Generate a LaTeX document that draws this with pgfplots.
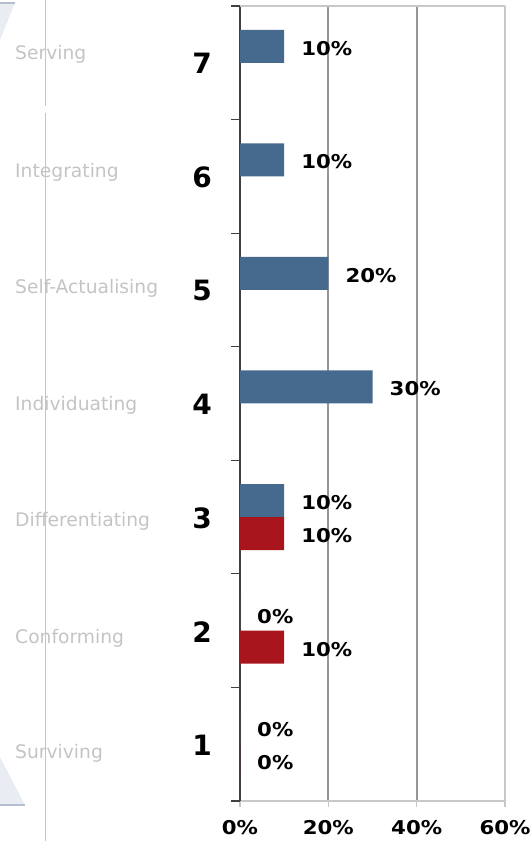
\documentclass[border=0pt]{standalone}
\usepackage{fontspec}
\setmainfont{DejaVu Sans}
\newfontfamily\valfont[FakeStretch=1.12]{DejaVu Sans}
\usepackage{pgfplots}
\pgfplotsset{compat=1.18}

\definecolor{barblue}{RGB}{70,106,142}
\definecolor{barred}{RGB}{168,21,28}
\definecolor{lightgrid}{RGB}{200,200,200}
\definecolor{midgrid}{RGB}{150,150,150}
\definecolor{labgray}{RGB}{196,196,196}
\definecolor{shapefill}{RGB}{233,237,243}
\definecolor{shapeedge}{RGB}{180,192,208}

\begin{document}
\begin{tikzpicture}[x=1pt,y=1pt]
\path[use as bounding box] (0,0) rectangle (531,841);

% faint shapes of the background
\fill[shapefill] (0,838) -- (15,838) -- (0,801) -- cycle;
\draw[shapeedge, line width=2pt] (0,837.5) -- (15,837.5);
\fill[shapefill] (0,84) -- (25,36) -- (0,36) -- cycle;
\draw[shapeedge, line width=1.5pt] (0,36) -- (25,36);

% stage names
\foreach \lab/\yy in {Serving/781, Integrating/663, Self-Actualising/547,
    Individuating/430, Differentiating/314, Conforming/197, Surviving/82}
  \node[anchor=base west, inner sep=0pt, text=labgray,
        font=\fontsize{18.7}{18.7}\selectfont] at (15,\yy) {\lab};

\draw[labgray, line width=1pt] (45,841) -- (45,735);
\draw[labgray, line width=1pt] (45,728) -- (45,0);

\begin{axis}[
  at={(240pt,40pt)}, anchor=south west, scale only axis,
  width=265pt, height=795pt,
  xmin=0, xmax=60, ymin=0.5, ymax=7.5,
  xbar, bar width=33pt,
  clip=false,
  /pgf/number format/assume math mode=true,
  axis x line*=bottom, axis y line*=left,
  x axis line style={draw=lightgrid, line width=1.2pt, -},
  y axis line style={draw=black!75, line width=1.2pt, -},
  tick align=outside,
  major tick length=6pt, minor tick length=9pt,
  xtick={0,20,40}, extra x ticks={60},
  grid style={midgrid, line width=2pt},
  extra x tick style={grid style={lightgrid, line width=2pt}},
  xticklabel={\pgfmathprintnumber{\tick}\%},
  xtick style={draw=lightgrid, line width=1.2pt},
  xmajorgrids,
  ytick={1,...,7}, minor ytick={0.5,1.5,...,7.5},
  major y tick style={draw=none},
  minor y tick style={draw=black!75, line width=1.2pt},
  yticklabel style={font=\bfseries\fontsize{28}{28}\selectfont,
                    anchor=center, xshift=-32pt, yshift=-1pt},
  xticklabel style={font=\valfont\bfseries\fontsize{19}{19}\selectfont,
                    anchor=center, yshift=-21pt},
  point meta=x,
  nodes near coords={\pgfmathprintnumber{\pgfplotspointmeta}\%},
  every node near coord/.append style={anchor=west, inner sep=0pt, xshift=17pt,
      yshift=-2pt, text=black, font=\valfont\bfseries\fontsize{19}{19}\selectfont},
]
\addplot[fill=barblue, draw=none, bar shift=16.5pt]
  coordinates {(0,1) (0,2) (10,3) (30,4) (20,5) (10,6) (10,7)};
\addplot[fill=barred, draw=none, bar shift=-16.5pt]
  coordinates {(0,1) (10,2) (10,3)};
\draw[lightgrid, line width=1.2pt] (axis cs:0,7.5) -- (axis cs:60,7.5);
\end{axis}
\end{tikzpicture}
\end{document}
